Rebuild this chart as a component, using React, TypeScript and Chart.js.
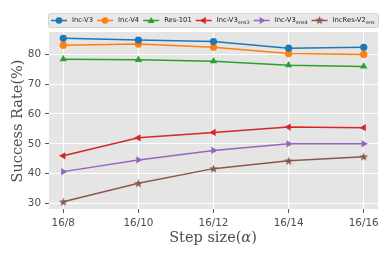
import { useEffect, useRef } from 'react';
import { Chart, registerables } from 'chart.js';
Chart.register(...registerables);

const stepLabels = ['16/8', '16/10', '16/12', '16/14', '16/16'];
const stepValues = [8, 10, 12, 14, 16];
const yTicks = [30, 40, 50, 60, 70, 80];

const seriesNames = ['Inc-V3', 'Inc-V4', 'Res-101', 'Inc-V3', 'Inc-V3', 'IncRes-V2'];
const seriesSubs = ['', '', '', 'ens3', 'ens4', 'ens'];
const seriesColors = ['#1f77b4', '#ff7f0e', '#2ca02c', '#d62728', '#9467bd', '#8c564b'];

const incV3 = [85.3, 84.7, 84.2, 82.0, 82.3];
const incV4 = [83.0, 83.35, 82.3, 80.2, 79.9];
const res101 = [78.3, 78.1, 77.65, 76.3, 75.9];
const incV3ens3 = [46.0, 52.0, 53.8, 55.6, 55.4];
const incV3ens4 = [40.7, 44.6, 47.8, 50.0, 50.0];
const incResV2ens = [30.6, 36.8, 41.7, 44.3, 45.7];

const seriesValues = [incV3, incV4, res101, incV3ens3, incV3ens4, incResV2ens];

function makeStar(color: string, size: number) {
  const c = document.createElement('canvas');
  c.width = size;
  c.height = size;
  const ctx = c.getContext('2d')!;
  const cx = size / 2, cy = size / 2 + 0.4;
  const R = size / 2, r = R * 0.42;
  ctx.beginPath();
  for (let i = 0; i < 10; i++) {
    const rad = i % 2 === 0 ? R : r;
    const a = -Math.PI / 2 + (i * Math.PI) / 5;
    const x = cx + rad * Math.cos(a);
    const y = cy + rad * Math.sin(a);
    if (i === 0) ctx.moveTo(x, y); else ctx.lineTo(x, y);
  }
  ctx.closePath();
  ctx.fillStyle = color;
  ctx.fill();
  return c;
}

export default function App() {
  const ref = useRef<HTMLCanvasElement>(null);
  useEffect(() => {
    const star = makeStar(seriesColors[5], 9);
    const styles: any[] = ['circle', 'circle', 'triangle', 'triangle', 'triangle', star];
    const rotations = [0, 0, 0, -90, 90, 0];
    const radii = [3.6, 3.6, 4.2, 4.2, 4.2, 4.5];

    const datasets = seriesValues.map((vals, i) => ({
      label: seriesNames[i] + seriesSubs[i],
      data: vals.map((v, j) => ({ x: stepValues[j], y: v })),
      borderColor: seriesColors[i],
      backgroundColor: seriesColors[i],
      borderWidth: 1.5,
      pointStyle: styles[i],
      pointRotation: rotations[i],
      pointRadius: radii[i],
      pointBorderWidth: 0,
      pointBackgroundColor: seriesColors[i],
      pointBorderColor: seriesColors[i],
      tension: 0,
    }));

    const decor = {
      id: 'decor',
      beforeDraw(chart: any) {
        const { ctx, chartArea: a } = chart;
        ctx.save();
        ctx.fillStyle = '#E5E5E5';
        ctx.fillRect(a.left, a.top, a.right - a.left, a.bottom - a.top);
        ctx.restore();
      },
      afterDraw(chart: any) {
        const { ctx, chartArea: a } = chart;
        ctx.save();
        // legend box
        const bx = 48, by = 13, bw = 330, bh = 14;
        ctx.beginPath();
        (ctx as any).roundRect(bx + 0.5, by + 0.5, bw, bh, 2);
        ctx.fillStyle = 'rgba(232,232,232,1)';
        ctx.fill();
        ctx.strokeStyle = '#d4d4d4';
        ctx.lineWidth = 1;
        ctx.stroke();
        const cy = by + bh / 2 + 0.5;
        let x = 51;
        ctx.textBaseline = 'middle';
        for (let i = 0; i < seriesNames.length; i++) {
          const col = seriesColors[i];
          ctx.strokeStyle = col;
          ctx.lineWidth = 1.5;
          ctx.beginPath();
          ctx.moveTo(x, cy);
          ctx.lineTo(x + 16, cy);
          ctx.stroke();
          const mx = x + 8;
          ctx.fillStyle = col;
          if (i < 2) {
            ctx.beginPath();
            ctx.arc(mx, cy, 3.3, 0, Math.PI * 2);
            ctx.fill();
          } else if (i === 5) {
            ctx.drawImage(star, mx - 4.5, cy - 4.9, 9, 9);
          } else {
            const rot = (rotations[i] * Math.PI) / 180;
            const r = 4;
            ctx.beginPath();
            for (let k = 0; k < 3; k++) {
              const ang = rot - Math.PI / 2 + (k * 2 * Math.PI) / 3;
              const px = mx + r * Math.cos(ang);
              const py = cy + r * Math.sin(ang) + (i === 2 ? 0.6 : 0);
              if (k === 0) ctx.moveTo(px, py); else ctx.lineTo(px, py);
            }
            ctx.closePath();
            ctx.fill();
          }
          let tx = x + 21;
          ctx.fillStyle = '#222';
          ctx.font = '6.8px "DejaVu Sans"';
          ctx.textAlign = 'left';
          ctx.fillText(seriesNames[i], tx, cy);
          tx += ctx.measureText(seriesNames[i]).width;
          if (seriesSubs[i]) {
            ctx.font = '4.8px "DejaVu Sans"';
            ctx.fillText(seriesSubs[i], tx + 0.3, cy + 2);
            tx += ctx.measureText(seriesSubs[i]).width + 0.3;
          }
          x = tx + 4;
        }

        // axis titles
        const tf = 14.5;
        ctx.fillStyle = '#4d4d4d';
        ctx.textBaseline = 'middle';
        ctx.textAlign = 'center';
        ctx.font = `${tf}px "DejaVu Serif"`;
        ctx.save();
        ctx.translate(18, 121);
        ctx.rotate(-Math.PI / 2);
        ctx.fillText('Success Rate(%)', 0, 0);
        ctx.restore();

        const p1 = 'Step size(', p2 = 'α', p3 = ')';
        ctx.font = `${tf}px "DejaVu Serif"`;
        const w1 = ctx.measureText(p1).width;
        const w3 = ctx.measureText(p3).width;
        ctx.font = `italic ${tf}px "DejaVu Serif"`;
        const w2 = ctx.measureText(p2).width;
        const total = w1 + w2 + w3;
        let sx = 213 - total / 2;
        const ty = 238;
        ctx.textAlign = 'left';
        ctx.font = `${tf}px "DejaVu Serif"`;
        ctx.fillText(p1, sx, ty);
        sx += w1;
        ctx.font = `italic ${tf}px "DejaVu Serif"`;
        ctx.fillText(p2, sx, ty);
        sx += w2;
        ctx.font = `${tf}px "DejaVu Serif"`;
        ctx.fillText(p3, sx, ty);
        ctx.restore();
      },
    };

    const chart = new Chart(ref.current!, {
      type: 'line',
      data: { datasets },
      plugins: [decor],
      options: {
        animation: false,
        responsive: false,
        layout: { padding: { top: 32, right: 12, left: 0, bottom: 0 } },
        plugins: { legend: { display: false }, tooltip: { enabled: false } },
        scales: {
          x: {
            type: 'linear',
            min: 7.62,
            max: 16.38,
            afterBuildTicks: (s: any) => {
              s.ticks = stepValues.map((v) => ({ value: v }));
            },
            afterFit: (s: any) => {
              s.height = 51;
            },
            ticks: {
              callback: (v: any) => {
                const i = stepValues.indexOf(Number(v));
                return i >= 0 ? stepLabels[i] : '';
              },
              color: '#4d4d4d',
              font: { family: 'DejaVu Sans', size: 10.4 },
              padding: 4,
              maxRotation: 0,
              autoSkip: false,
            },
            grid: { color: '#ffffff', lineWidth: 1, tickColor: '#555555', tickLength: 4, drawTicks: true },
            border: { display: false },
          },
          y: {
            min: 28.2,
            max: 87.4,
            afterBuildTicks: (s: any) => {
              s.ticks = yTicks.map((v) => ({ value: v }));
            },
            afterFit: (s: any) => {
              s.width = 49;
            },
            ticks: {
              color: '#4d4d4d',
              font: { family: 'DejaVu Sans', size: 10.4 },
              padding: 4,
            },
            grid: { color: '#ffffff', lineWidth: 1, tickColor: '#555555', tickLength: 4, drawTicks: true },
            border: { display: false },
          },
        },
      },
    });
    return () => chart.destroy();
  }, []);

  return (
    <div style={{ position: 'fixed', left: 0, top: 0, width: 390, height: 260, background: '#fff' }}>
      <canvas ref={ref} width={390} height={260} style={{ width: 390, height: 260, display: 'block' }} />
    </div>
  );
}
